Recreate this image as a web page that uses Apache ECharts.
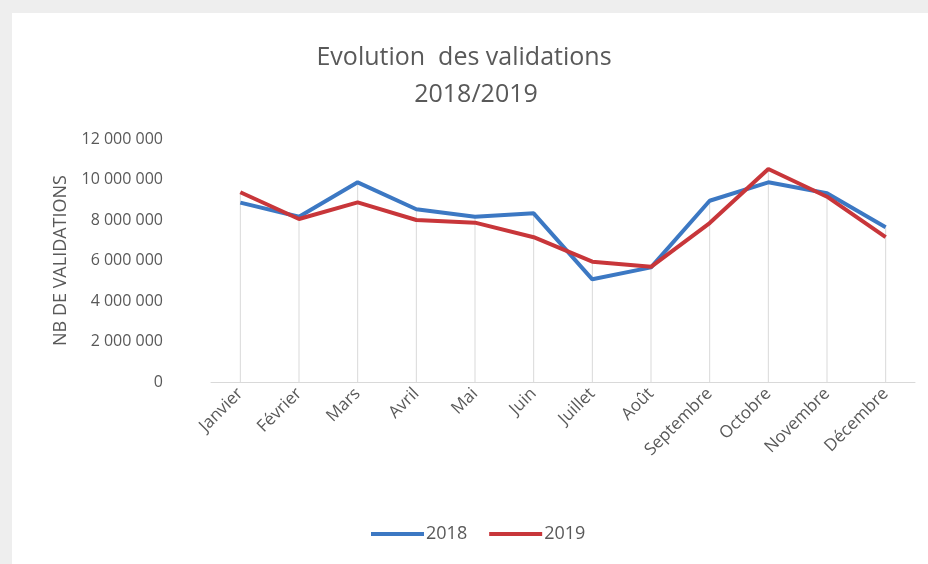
<!DOCTYPE html>
<html>
<head>
<meta charset="utf-8">
<script src="https://cdn.jsdelivr.net/npm/echarts@6/dist/echarts.min.js"></script>
<style>
  html, body { margin: 0; padding: 0; background: #ffffff; }
  #chart { width: 928px; height: 564px; }
</style>
</head>
<body>
<div id="chart"></div>
<script>
// Monthly validation counts, 2018 vs 2019
const months = ['Janvier', 'Février', 'Mars', 'Avril', 'Mai', 'Juin', 'Juillet', 'Août', 'Septembre', 'Octobre', 'Novembre', 'Décembre'];
const validations2018 = [8860000, 8160000, 9860000, 8530000, 8160000, 8330000, 5070000, 5660000, 8950000, 9860000, 9320000, 7640000];
const validations2019 = [9370000, 8050000, 8870000, 8000000, 7870000, 7150000, 5940000, 5690000, 7850000, 10520000, 9150000, 7150000];
const seriesNames = ['2018', '2019'];

// Drop lines reach the higher of the two points in each month
const dropHeights = months.map((_, i) => Math.max(validations2018[i], validations2019[i]));

const fmt = v => String(v).replace(/\B(?=(\d{3})+(?!\d))/g, ' ');
const textColor = '#595959';
const font = 'Open Sans';
const titleStyle = { color: textColor, fontSize: 25, fontWeight: 'normal', lineHeight: 30, fontFamily: font };

const chart = echarts.init(document.getElementById('chart'), null, { renderer: 'canvas' });
chart.setOption({
  backgroundColor: '#ffffff',
  animation: false,
  textStyle: { fontFamily: font },
  graphic: [
    { type: 'rect', shape: { x: 0, y: 0, width: 928, height: 13 }, style: { fill: '#eeeeee' }, z: -1 },
    { type: 'rect', shape: { x: 0, y: 0, width: 12, height: 564 }, style: { fill: '#eeeeee' }, z: -1 }
  ],
  title: [
    { text: 'Evolution  des validations', left: 464, top: 43, textAlign: 'center', padding: 0, textStyle: titleStyle },
    { text: '2018/2019', left: 476, top: 80, textAlign: 'center', padding: 0, textStyle: titleStyle }
  ],
  legend: {
    data: seriesNames,
    left: 366,
    top: 520,
    itemWidth: 53,
    itemHeight: 4,
    itemGap: 22,
    icon: 'rect',
    textStyle: { color: textColor, fontSize: 18, fontFamily: font, padding: [0, 0, 0, -3] }
  },
  grid: { left: 211, right: 13, top: 139, bottom: 182, containLabel: false },
  xAxis: {
    type: 'category',
    data: months,
    boundaryGap: true,
    axisLine: { lineStyle: { color: '#d9d9d9', width: 1 } },
    axisTick: { show: false },
    axisLabel: { rotate: 45, color: textColor, fontSize: 17, margin: 9, interval: 0, fontFamily: font }
  },
  yAxis: {
    type: 'value',
    min: 0,
    max: 12000000,
    interval: 2000000,
    name: 'NB DE VALIDATIONS',
    nameLocation: 'middle',
    nameGap: 141,
    nameTextStyle: { color: textColor, fontSize: 18, fontFamily: font },
    axisLine: { show: false },
    axisTick: { show: false },
    splitLine: { show: false },
    axisLabel: { color: textColor, fontSize: 16, margin: 48, formatter: fmt, fontFamily: font }
  },
  series: [
    {
      name: 'drop',
      type: 'bar',
      data: dropHeights,
      barWidth: 1,
      itemStyle: { color: '#d9d9d9' },
      silent: true,
      z: 1
    },
    {
      name: seriesNames[0],
      type: 'line',
      data: validations2018,
      symbol: 'none',
      lineStyle: { color: '#3c78c3', width: 4 },
      itemStyle: { color: '#3c78c3' },
      z: 3
    },
    {
      name: seriesNames[1],
      type: 'line',
      data: validations2019,
      symbol: 'none',
      lineStyle: { color: '#c8363a', width: 4 },
      itemStyle: { color: '#c8363a' },
      z: 4
    }
  ]
});
</script>
</body>
</html>
